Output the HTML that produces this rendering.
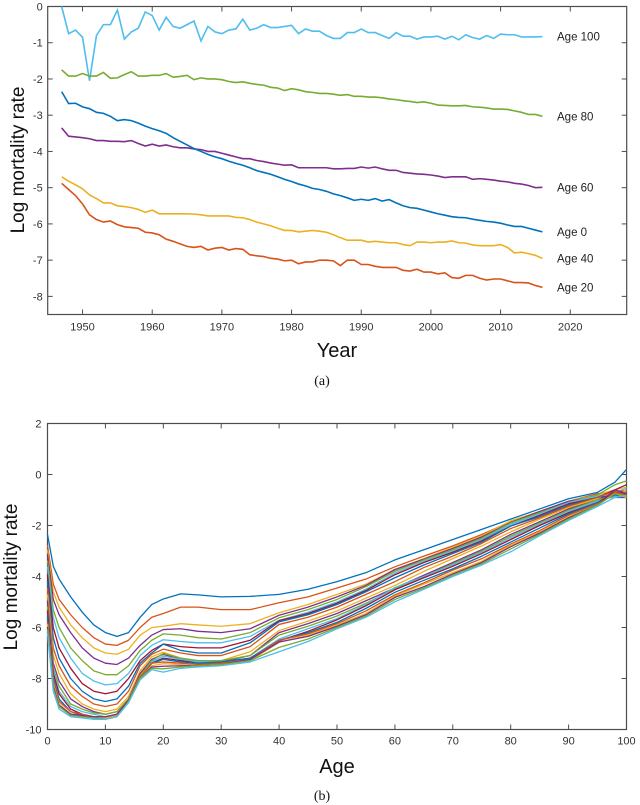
<!DOCTYPE html>
<html><head><meta charset="utf-8"><style>
html,body{margin:0;padding:0;background:#fff;}
svg{display:block;font-family:"Liberation Sans",Arial,sans-serif;}
</style></head><body>
<svg id="fig" width="640" height="805" viewBox="0 0 640 805" xmlns="http://www.w3.org/2000/svg">
<g id="chartA"></g>
<g id="chartB"></g>
</svg>
<script>
// ---------- Chart (a) data ----------
const yearsStart = 1947;
const seriesNames = ["Age 100","Age 80","Age 60","Age 0","Age 40","Age 20"];
const seriesColors = ["#4DBEEE","#77AC30","#7E2F8E","#0072BD","#EDB120","#D95319"];
const age100 = [0,-0.75,-0.65,-0.85,-2.05,-0.8,-0.5,-0.5,-0.1,-0.9,-0.7,-0.6,-0.15,-0.25,-0.65,-0.3,-0.55,-0.6,-0.5,-0.4,-0.95,-0.55,-0.7,-0.75,-0.65,-0.62,-0.35,-0.65,-0.6,-0.5,-0.58,-0.58,-0.55,-0.52,-0.75,-0.62,-0.68,-0.68,-0.8,-0.88,-0.88,-0.72,-0.72,-0.62,-0.72,-0.72,-0.8,-0.88,-0.72,-0.82,-0.82,-0.9,-0.84,-0.84,-0.82,-0.9,-0.82,-0.92,-0.78,-0.86,-0.9,-0.8,-0.88,-0.76,-0.78,-0.78,-0.84,-0.84,-0.84,-0.83];
const age80 = [-1.75,-1.92,-1.92,-1.85,-1.92,-1.92,-1.82,-1.98,-1.97,-1.88,-1.8,-1.92,-1.92,-1.9,-1.9,-1.85,-1.95,-1.93,-1.9,-2.02,-1.97,-2.0,-2.0,-2.02,-2.07,-2.1,-2.08,-2.12,-2.15,-2.17,-2.23,-2.25,-2.32,-2.27,-2.3,-2.35,-2.37,-2.4,-2.4,-2.42,-2.45,-2.43,-2.48,-2.48,-2.5,-2.5,-2.52,-2.55,-2.57,-2.6,-2.62,-2.65,-2.63,-2.67,-2.72,-2.73,-2.74,-2.74,-2.73,-2.77,-2.78,-2.8,-2.83,-2.83,-2.84,-2.88,-2.92,-2.98,-2.98,-3.03];
const age60 = [-3.35,-3.58,-3.6,-3.62,-3.65,-3.7,-3.7,-3.72,-3.72,-3.73,-3.7,-3.78,-3.85,-3.8,-3.85,-3.82,-3.87,-3.9,-3.9,-3.93,-3.95,-4.0,-4.0,-4.05,-4.1,-4.15,-4.2,-4.2,-4.25,-4.28,-4.32,-4.35,-4.38,-4.37,-4.45,-4.45,-4.45,-4.45,-4.45,-4.48,-4.48,-4.47,-4.47,-4.43,-4.46,-4.43,-4.48,-4.52,-4.52,-4.58,-4.6,-4.62,-4.63,-4.65,-4.68,-4.72,-4.7,-4.7,-4.7,-4.77,-4.75,-4.77,-4.79,-4.82,-4.84,-4.88,-4.9,-4.94,-5.0,-4.99];
const age0 = [-2.35,-2.68,-2.67,-2.77,-2.82,-2.92,-2.95,-3.03,-3.15,-3.12,-3.15,-3.22,-3.3,-3.37,-3.43,-3.5,-3.62,-3.72,-3.82,-3.92,-4.0,-4.08,-4.15,-4.2,-4.27,-4.33,-4.38,-4.45,-4.53,-4.58,-4.63,-4.7,-4.77,-4.83,-4.9,-4.95,-5.02,-5.05,-5.1,-5.17,-5.22,-5.28,-5.35,-5.32,-5.35,-5.3,-5.37,-5.33,-5.42,-5.5,-5.55,-5.57,-5.62,-5.67,-5.72,-5.76,-5.8,-5.82,-5.83,-5.87,-5.9,-5.93,-5.95,-5.98,-6.03,-6.07,-6.07,-6.12,-6.17,-6.22];
const age40 = [-4.7,-4.82,-4.92,-5.03,-5.2,-5.3,-5.42,-5.42,-5.5,-5.52,-5.55,-5.6,-5.68,-5.62,-5.72,-5.72,-5.72,-5.72,-5.72,-5.73,-5.75,-5.78,-5.78,-5.78,-5.78,-5.82,-5.83,-5.88,-5.95,-6.0,-6.05,-6.12,-6.18,-6.18,-6.22,-6.2,-6.18,-6.2,-6.23,-6.3,-6.38,-6.45,-6.45,-6.45,-6.5,-6.48,-6.5,-6.52,-6.52,-6.57,-6.6,-6.5,-6.5,-6.52,-6.5,-6.5,-6.47,-6.52,-6.53,-6.58,-6.6,-6.6,-6.6,-6.57,-6.65,-6.8,-6.78,-6.82,-6.87,-6.95];
const age20 = [-4.88,-5.05,-5.22,-5.45,-5.75,-5.88,-5.95,-5.92,-6.02,-6.08,-6.1,-6.12,-6.23,-6.25,-6.3,-6.42,-6.48,-6.55,-6.62,-6.65,-6.62,-6.72,-6.67,-6.65,-6.72,-6.68,-6.7,-6.85,-6.88,-6.9,-6.95,-6.97,-7.02,-7.0,-7.1,-7.05,-7.05,-7.0,-7.0,-7.02,-7.15,-7.0,-7.0,-7.12,-7.12,-7.17,-7.2,-7.2,-7.2,-7.28,-7.3,-7.25,-7.33,-7.33,-7.38,-7.35,-7.48,-7.5,-7.42,-7.42,-7.5,-7.55,-7.52,-7.52,-7.57,-7.62,-7.62,-7.63,-7.7,-7.75];
const xTicksA = [1950,1960,1970,1980,1990,2000,2010,2020];
const yTicksA = [0,-1,-2,-3,-4,-5,-6,-7,-8];

// ---------- Chart (b) data ----------
const ages = [0,1,2,4,6,8,10,12,14,16,18,20,23,26,30,35,40,45,50,55,60,65,70,75,80,85,90,95,98,100];
const curveYears = [1947,1950,1953,1956,1960,1963,1966,1970,1974,1978,1982,1986,1990,1994,1998,2002,2006,2010,2013,2016];
const c1947=[-2.35,-3.6,-4.1,-4.8,-5.4,-5.9,-6.2,-6.35,-6.2,-5.6,-5.1,-4.88,-4.68,-4.72,-4.8,-4.78,-4.7,-4.5,-4.2,-3.85,-3.35,-2.95,-2.55,-2.15,-1.75,-1.35,-0.95,-0.7,-0.3,0.2];
const c1950=[-2.77,-4.3,-4.9,-5.5,-6.0,-6.4,-6.65,-6.7,-6.5,-6.0,-5.6,-5.45,-5.2,-5.2,-5.3,-5.3,-5.03,-4.8,-4.45,-4.1,-3.62,-3.2,-2.8,-2.35,-1.85,-1.45,-1.05,-0.75,-0.7,-0.85];
const c1953=[-2.95,-4.6,-5.2,-5.9,-6.4,-6.8,-7.0,-7.05,-6.85,-6.3,-6.0,-5.95,-5.85,-5.9,-5.95,-5.85,-5.42,-5.1,-4.7,-4.3,-3.72,-3.3,-2.85,-2.4,-1.82,-1.45,-1.05,-0.8,-0.6,-0.5];
const c1956=[-3.12,-4.9,-5.5,-6.2,-6.8,-7.2,-7.4,-7.45,-7.2,-6.7,-6.3,-6.08,-6.05,-6.15,-6.2,-6.05,-5.52,-5.2,-4.8,-4.35,-3.73,-3.32,-2.9,-2.45,-1.88,-1.45,-1.05,-0.85,-0.9,-0.9];
const c1960=[-3.37,-5.3,-6.0,-6.8,-7.3,-7.7,-7.85,-7.85,-7.5,-6.9,-6.5,-6.25,-6.3,-6.4,-6.45,-6.2,-5.62,-5.3,-4.9,-4.4,-3.8,-3.35,-2.95,-2.5,-1.9,-1.5,-1.1,-0.8,-0.4,-0.25];
const c1963=[-3.62,-5.6,-6.4,-7.2,-7.8,-8.1,-8.25,-8.2,-7.8,-7.1,-6.7,-6.48,-6.55,-6.6,-6.6,-6.35,-5.72,-5.4,-5.0,-4.5,-3.87,-3.4,-3.0,-2.55,-1.95,-1.55,-1.1,-0.85,-0.7,-0.55];
const c1966=[-3.92,-6.0,-6.8,-7.6,-8.2,-8.5,-8.6,-8.5,-8.0,-7.3,-6.9,-6.65,-6.75,-6.8,-6.8,-6.5,-5.73,-5.45,-5.05,-4.55,-3.93,-3.45,-3.05,-2.6,-2.02,-1.6,-1.15,-0.9,-0.6,-0.4];
const c1970=[-4.2,-6.4,-7.2,-8.0,-8.5,-8.8,-8.9,-8.8,-8.3,-7.4,-7.0,-6.65,-6.9,-7.0,-7.0,-6.6,-5.78,-5.5,-5.1,-4.6,-4.05,-3.55,-3.1,-2.65,-2.02,-1.65,-1.2,-0.9,-0.8,-0.75];
const c1974=[-4.45,-6.8,-7.5,-8.3,-8.7,-9.0,-9.1,-9.0,-8.5,-7.5,-7.05,-6.85,-7.0,-7.1,-7.1,-6.75,-5.88,-5.6,-5.2,-4.7,-4.2,-3.65,-3.2,-2.7,-2.12,-1.7,-1.25,-0.9,-0.65,-0.65];
const c1978=[-4.7,-7.1,-7.8,-8.6,-9.0,-9.2,-9.3,-9.2,-8.7,-7.7,-7.15,-6.97,-7.2,-7.3,-7.3,-6.95,-6.12,-5.75,-5.35,-4.85,-4.35,-3.8,-3.3,-2.8,-2.25,-1.75,-1.3,-0.95,-0.9,-0.6];
const c1982=[-4.95,-7.4,-8.1,-8.8,-9.1,-9.3,-9.4,-9.3,-8.8,-7.8,-7.25,-7.05,-7.25,-7.35,-7.35,-7.1,-6.2,-5.85,-5.45,-4.95,-4.45,-3.95,-3.45,-2.95,-2.35,-1.85,-1.35,-1.0,-0.7,-0.75];
const c1986=[-5.17,-7.6,-8.3,-9.0,-9.2,-9.35,-9.4,-9.3,-8.8,-7.9,-7.3,-7.02,-7.2,-7.3,-7.3,-7.1,-6.3,-5.95,-5.55,-5.05,-4.48,-4.0,-3.5,-3.0,-2.42,-1.9,-1.4,-1.0,-0.8,-0.7];
const c1990=[-5.32,-7.7,-8.5,-9.1,-9.3,-9.4,-9.5,-9.4,-8.9,-8.0,-7.35,-7.12,-7.25,-7.35,-7.35,-7.2,-6.45,-6.05,-5.65,-5.1,-4.43,-4.0,-3.55,-3.05,-2.48,-1.95,-1.45,-1.05,-0.85,-0.8];
const c1994=[-5.33,-7.8,-8.6,-9.2,-9.4,-9.5,-9.55,-9.4,-8.9,-8.0,-7.4,-7.2,-7.3,-7.4,-7.4,-7.25,-6.52,-6.15,-5.7,-5.15,-4.52,-4.05,-3.6,-3.1,-2.55,-2.0,-1.5,-1.1,-0.7,-0.75];
const c1998=[-5.57,-8.0,-8.8,-9.3,-9.45,-9.5,-9.6,-9.45,-8.9,-8.0,-7.4,-7.25,-7.35,-7.4,-7.35,-7.2,-6.5,-6.2,-5.8,-5.25,-4.62,-4.15,-3.7,-3.2,-2.65,-2.1,-1.55,-1.1,-0.8,-0.9];
const c2002=[-5.76,-8.1,-8.9,-9.3,-9.4,-9.5,-9.5,-9.4,-8.85,-7.95,-7.4,-7.35,-7.4,-7.45,-7.4,-7.25,-6.5,-6.25,-5.85,-5.35,-4.72,-4.25,-3.75,-3.3,-2.73,-2.2,-1.6,-1.15,-0.7,-0.8];
const c2006=[-5.87,-8.2,-9.0,-9.4,-9.5,-9.5,-9.55,-9.45,-8.9,-8.0,-7.5,-7.42,-7.45,-7.5,-7.45,-7.3,-6.58,-6.3,-5.9,-5.45,-4.77,-4.3,-3.85,-3.4,-2.77,-2.25,-1.65,-1.2,-0.75,-0.9];
const c2010=[-5.98,-8.3,-9.05,-9.4,-9.45,-9.5,-9.5,-9.4,-8.85,-8.0,-7.55,-7.52,-7.5,-7.5,-7.45,-7.25,-6.57,-6.35,-5.95,-5.5,-4.82,-4.4,-3.9,-3.45,-2.83,-2.3,-1.7,-1.2,-0.6,-0.75];
const c2013=[-6.07,-8.4,-9.1,-9.45,-9.5,-9.55,-9.6,-9.5,-8.9,-8.0,-7.6,-7.62,-7.55,-7.5,-7.45,-7.3,-6.78,-6.45,-6.0,-5.55,-4.9,-4.45,-3.95,-3.5,-2.92,-2.35,-1.75,-1.2,-0.75,-0.85];
const c2016=[-6.22,-8.5,-9.2,-9.5,-9.55,-9.6,-9.6,-9.5,-8.95,-8.05,-7.65,-7.75,-7.6,-7.55,-7.5,-7.35,-6.95,-6.55,-6.05,-5.6,-4.99,-4.5,-4.0,-3.55,-3.03,-2.4,-1.8,-1.25,-0.9,-0.83];
const xTicksB = [0,10,20,30,40,50,60,70,80,90,100];
const yTicksB = [2,0,-2,-4,-6,-8,-10];

const NS = "http://www.w3.org/2000/svg";
function mk(tag, attrs, parent){ const e=document.createElementNS(NS,tag); for(const k in attrs) e.setAttribute(k,attrs[k]); parent.appendChild(e); return e; }

// ---------- Chart (a) ----------
(function(){
  const g = document.getElementById('chartA');
  const L=47.7,R=626.7,T=6.5,B=314.5;
  const xMin=1945,xMax=2028.1,yMax=0,yMin=-8.5;
  const xs=v=>L+(v-xMin)/(xMax-xMin)*(R-L);
  const ys=v=>T+(yMax-v)/(yMax-yMin)*(B-T);
  const box=mk('rect',{x:L,y:T,width:R-L,height:B-T,fill:'none',stroke:'#4d4d4d','stroke-width':1.2},g);
  
  
  xTicksA.forEach(t=>{
    const x=xs(t);
    mk('line',{x1:x,y1:B,x2:x,y2:B-5,stroke:'#4d4d4d'},g);
    mk('line',{x1:x,y1:T,x2:x,y2:T+5,stroke:'#4d4d4d'},g);
    const tx=mk('text',{x:x,y:B+16,'font-size':11,'text-anchor':'middle',fill:'#333'},g);
    tx.textContent=t;
    
    
  });
  yTicksA.forEach(t=>{
    const y=ys(t);
    mk('line',{x1:L,y1:y,x2:L+5,y2:y,stroke:'#4d4d4d'},g);
    mk('line',{x1:R,y1:y,x2:R-5,y2:y,stroke:'#4d4d4d'},g);
    const tx=mk('text',{x:L-5,y:y+4,'font-size':11,'text-anchor':'end',fill:'#333'},g);
    tx.textContent=t;
    
    
  });
  const all=[age100,age80,age60,age0,age40,age20];
  all.forEach((arr,i)=>{
    const d=arr.map((v,j)=>(j?'L':'M')+xs(yearsStart+j).toFixed(2)+','+ys(v).toFixed(2)).join(' ');
    const p=mk('path',{d:d,fill:'none',stroke:seriesColors[i],'stroke-width':1.6},g);
    
    
    const last=arr[arr.length-1];
    const lab=mk('text',{x:557,y:ys(last)+4,'font-size':11.5,fill:'#222'},g);
    lab.textContent=seriesNames[i];
    
    
  });
  const yl=mk('text',{x:0,y:0,'font-size':19,'text-anchor':'middle',fill:'#111',transform:'translate(24,160) rotate(-90)'},g);
  yl.textContent='Log mortality rate';
  
  
  const xl=mk('text',{x:337,y:357,'font-size':20,'text-anchor':'middle',fill:'#111'},g);
  xl.textContent='Year';
  
  
  const cap=mk('text',{x:322,y:385,'font-size':14,'text-anchor':'middle',fill:'#111','font-family':'Liberation Serif, serif'},g);
  cap.textContent='(a)';
  
  
})();

// ---------- Chart (b) ----------
(function(){
  const g = document.getElementById('chartB');
  const L=47.5,R=626.5,T=423.5,B=729.5;
  const xMin=0,xMax=100,yMax=2,yMin=-10;
  const xs=v=>L+(v-xMin)/(xMax-xMin)*(R-L);
  const ys=v=>T+(yMax-v)/(yMax-yMin)*(B-T);
  const box=mk('rect',{x:L,y:T,width:R-L,height:B-T,fill:'none',stroke:'#4d4d4d','stroke-width':1.2},g);
  
  
  xTicksB.forEach(t=>{
    const x=xs(t);
    mk('line',{x1:x,y1:B,x2:x,y2:B-5,stroke:'#4d4d4d'},g);
    mk('line',{x1:x,y1:T,x2:x,y2:T+5,stroke:'#4d4d4d'},g);
    const tx=mk('text',{x:x,y:B+15,'font-size':11,'text-anchor':'middle',fill:'#333'},g);
    tx.textContent=t;
    
    
  });
  yTicksB.forEach(t=>{
    const y=ys(t);
    mk('line',{x1:L,y1:y,x2:L+5,y2:y,stroke:'#4d4d4d'},g);
    mk('line',{x1:R,y1:y,x2:R-5,y2:y,stroke:'#4d4d4d'},g);
    const tx=mk('text',{x:L-6,y:y+4,'font-size':11,'text-anchor':'end',fill:'#333'},g);
    tx.textContent=t;
    
    
  });
  const colors=["#0072BD","#D95319","#EDB120","#7E2F8E","#77AC30","#4DBEEE","#A2142F"];
  const curves=[c1947,c1950,c1953,c1956,c1960,c1963,c1966,c1970,c1974,c1978,c1982,c1986,c1990,c1994,c1998,c2002,c2006,c2010,c2013,c2016];
  curves.forEach((arr,i)=>{
    const d=arr.map((v,j)=>(j?'L':'M')+xs(ages[j]).toFixed(2)+','+ys(v).toFixed(2)).join(' ');
    const p=mk('path',{d:d,fill:'none',stroke:colors[i%7],'stroke-width':1.3,'stroke-linejoin':'round'},g);
    
    
  });
  const yl=mk('text',{x:0,y:0,'font-size':19,'text-anchor':'middle',fill:'#111',transform:'translate(17,577) rotate(-90)'},g);
  yl.textContent='Log mortality rate';
  
  
  const xl=mk('text',{x:337,y:773,'font-size':20,'text-anchor':'middle',fill:'#111'},g);
  xl.textContent='Age';
  
  
  const cap=mk('text',{x:322,y:800,'font-size':14,'text-anchor':'middle',fill:'#111','font-family':'Liberation Serif, serif'},g);
  cap.textContent='(b)';
  
  
})();
</script>
</body></html>
